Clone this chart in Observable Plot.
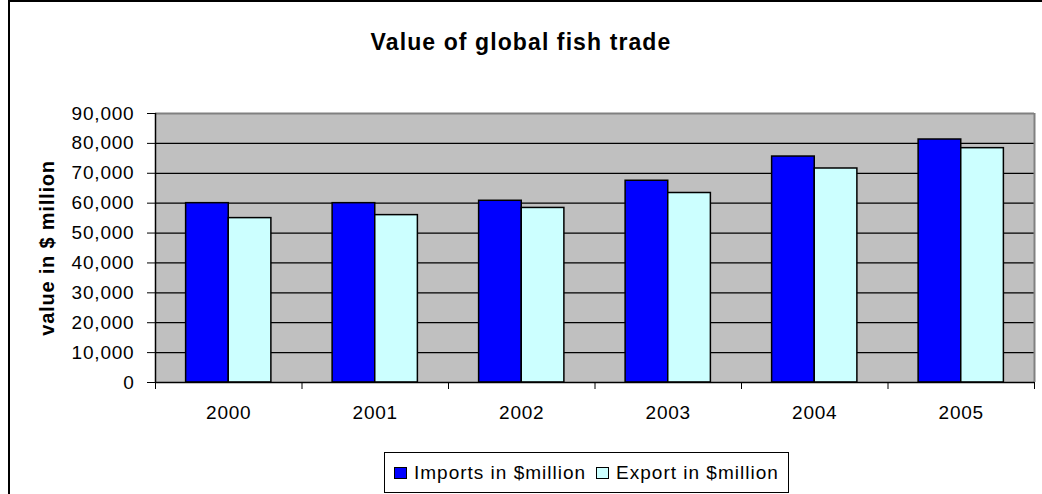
<!DOCTYPE html>
<html><head><meta charset="utf-8">
<script src="https://cdn.jsdelivr.net/npm/d3@7"></script>
<script src="https://cdn.jsdelivr.net/npm/@observablehq/plot@0.6"></script>
<style>
body{margin:0;background:#fff;font-family:"Liberation Sans",Arial,sans-serif;color:#000;}
#frame{position:absolute;left:8px;top:0;width:1040px;height:500px;border:2px solid #000;box-sizing:border-box;}
#title{position:absolute;left:0;top:29px;width:1042px;text-align:center;font-weight:bold;font-size:23px;letter-spacing:1.1px;}
#chart{position:absolute;left:0;top:0;}
#legend{position:absolute;left:384px;top:452px;height:41px;border:1px solid #000;box-sizing:border-box;background:#fff;display:flex;align-items:center;padding:0 9px 0 9px;font-size:19px;letter-spacing:1px;white-space:nowrap;}
.sw{display:inline-block;width:13px;height:12px;border:1px solid #000;margin-right:7px;box-sizing:border-box;}
.item{display:flex;align-items:center;}
.item + .item{margin-left:10px;}
</style></head>
<body>
<div id="frame"></div>
<div id="title"></div>
<div id="chart"></div>
<div id="legend"></div>
<script>
const years = [2000, 2001, 2002, 2003, 2004, 2005];
const importValues = [60000, 60000, 60800, 67500, 75600, 81300];
const exportValues = [55000, 56000, 58400, 63400, 71600, 78400];
const seriesLabels = ["Imports in $million", "Export in $million"];
const seriesColors = ["#0000ff", "#ccffff"];
const yTickValues = [0, 10000, 20000, 30000, 40000, 50000, 60000, 70000, 80000, 90000];
const yLabel = "value in $ million";
const titleText = "Value of global fish trade";

document.getElementById("title").textContent = titleText;

const rows = years.flatMap((yr, i) => [
  {year: yr, series: seriesLabels[0], value: importValues[i], side: -1},
  {year: yr, series: seriesLabels[1], value: exportValues[i], side: 1}
]);
const half = 0.291;
const xMin = years[0] - 0.5, xMax = years[years.length - 1] + 0.5;
const boundaries = years.map(y => y - 0.5).concat([xMax]);

const chart = Plot.plot({
  width: 1042, height: 440,
  marginLeft: 155, marginRight: 8, marginTop: 113, marginBottom: 58,
  style: {fontFamily: "Liberation Sans, Arial, sans-serif", fontSize: "19px", color: "#000", background: "transparent", overflow: "visible", letterSpacing: "0.8px"},
  x: {type: "linear", domain: [xMin, xMax]},
  y: {domain: [0, yTickValues[yTickValues.length - 1]]},
  color: {domain: seriesLabels, range: seriesColors},
  marks: [
    Plot.frame({fill: "#c0c0c0"}),
    Plot.ruleY(yTickValues.slice(1, -1), {stroke: "#000", strokeWidth: 1.3}),
    Plot.ruleY([yTickValues[yTickValues.length - 1]], {stroke: "#808080", strokeWidth: 2}),
    Plot.ruleX([xMax], {stroke: "#808080", strokeWidth: 2}),
    Plot.rect(rows, {
      x1: d => d.side < 0 ? d.year - half : d.year,
      x2: d => d.side < 0 ? d.year : d.year + half,
      y1: 0, y2: "value", fill: "series", stroke: "#000", strokeWidth: 1.5
    }),
    Plot.axisY({ticks: yTickValues, tickFormat: d3.format(","), tickSize: 8, tickPadding: 13, label: null, fontSize: 19}),
    Plot.ruleX([xMin], {stroke: "#000", strokeWidth: 1.5}),
    Plot.ruleY([0], {stroke: "#000", strokeWidth: 1.5}),
    Plot.axisX({ticks: boundaries, tickSize: 7, tickFormat: () => "", label: null}),
    Plot.axisX({ticks: years, tickSize: 0, tickPadding: 23, tickFormat: d => String(d), label: null, fontSize: 19}),
    Plot.text([yLabel], {frameAnchor: "left", rotate: -90, dx: -108, fontWeight: "bold", fontSize: 20, textAnchor: "middle", lineAnchor: "middle", fill: "#000"})
  ]
});
document.getElementById("chart").appendChild(chart);

const legend = document.getElementById("legend");
seriesLabels.forEach((lab, i) => {
  const item = document.createElement("span");
  item.className = "item";
  const sw = document.createElement("span");
  sw.className = "sw";
  sw.style.background = seriesColors[i];
  item.appendChild(sw);
  item.appendChild(document.createTextNode(lab));
  legend.appendChild(item);
});
</script>
</body></html>
